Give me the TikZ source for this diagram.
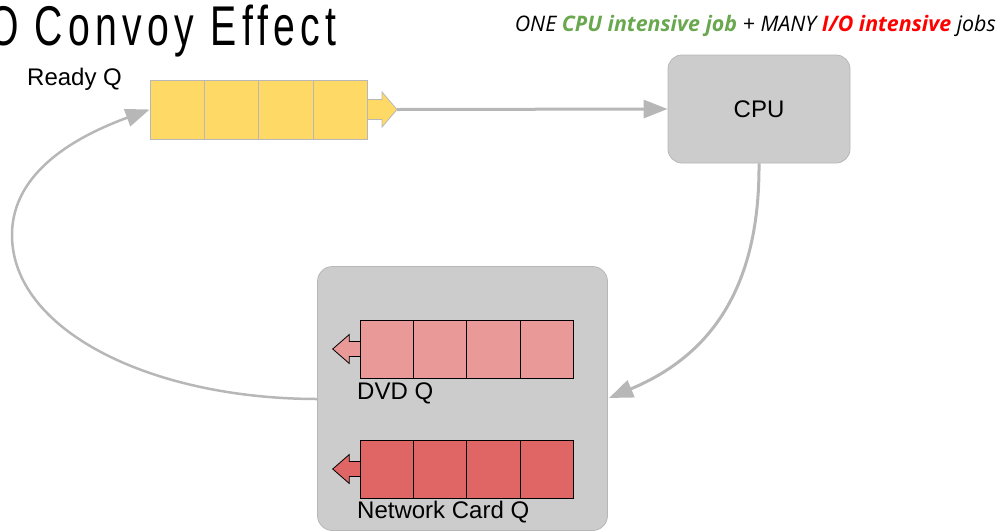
\documentclass[tikz,border=0pt]{standalone}
\usepackage{fontspec}
\setmainfont{Liberation Sans}
\newfontfamily\subfont{Open Sans}
\newfontfamily\titlefont[FakeStretch=0.7,LetterSpace=9.5]{Liberation Sans}
\usetikzlibrary{arrows.meta}

\definecolor{qyellow}{HTML}{FFD966}
\definecolor{qpink}{HTML}{EA9999}
\definecolor{qred}{HTML}{E06666}
\definecolor{boxgray}{HTML}{CCCCCC}
\definecolor{edgegray}{HTML}{B7B7B7}
\definecolor{jobgreen}{HTML}{6AA84F}
\definecolor{jobred}{HTML}{FF0000}

\tikzset{
  link/.style={draw=edgegray, line width=3pt,
    -{Triangle[length=24pt,width=18pt]}},
  unit/.style={draw=edgegray, fill=boxgray, rounded corners=14pt,
    line width=0.8pt, inner sep=0pt},
  rcell/.style={draw=edgegray, fill=qyellow, line width=0.8pt,
    minimum width=54.4pt, minimum height=59pt, inner sep=0pt},
  dcell/.style={draw=black, fill=qpink, line width=0.8pt,
    minimum width=53.3pt, minimum height=58.3pt, inner sep=0pt},
  ncell/.style={draw=black, fill=qred, line width=0.8pt,
    minimum width=53.3pt, minimum height=58.3pt, inner sep=0pt},
  lbl/.style={inner sep=0pt, anchor=base west, font=\fontsize{24}{28}\selectfont},
}

\begin{document}
\begin{tikzpicture}[x=1pt,y=-1pt]
\useasboundingbox (0,0) rectangle (1001,531);

% title and subtitle
\node[inner sep=0pt, anchor=base east, font=\titlefont\fontsize{56}{60}\selectfont]
  (title) at (337,45) {O Convoy Effect};
\node[inner sep=0pt, anchor=base east, font=\subfont\itshape\fontsize{21.4}{25}\selectfont]
  (sub) at (996,31)
  {ONE \textcolor{jobgreen}{\bfseries CPU intensive job} + MANY
   \textcolor{jobred}{\bfseries I/O intensive} jobs};

% CPU
\node[unit, minimum width=182pt, minimum height=108pt] (cpu) at (759,109)
  {\fontsize{24}{28}\selectfont CPU};

% I/O device box
\node[unit, rounded corners=15pt, minimum width=290pt, minimum height=264pt]
  (iobox) at (462.5,398.5) {};

% ready queue with its exit arrow
\path[draw=edgegray, fill=qyellow, line width=0.8pt]
  (367,99.5) -- (382,99.5) -- (382,92) -- (397,109.5) -- (382,127)
  -- (382,119.5) -- (367,119.5);
\foreach \i in {1,...,4}
  \node[rcell] (r\i) at ({150+27.2+54.4*(\i-1)},109.5) {};
\node[lbl] (readylbl) at (27,85) {Ready Q};
\coordinate (readytip) at (397,109.5);

% DVD queue
\path[draw=black, fill=qpink, line width=0.8pt]
  (361,341.5) -- (349.3,341.5) -- (349.3,334.5) -- (332.7,349) -- (349.3,363.5)
  -- (349.3,356.5) -- (361,356.5);
\foreach \i in {1,...,4}
  \node[dcell] (d\i) at ({360+26.65+53.3*(\i-1)},349.2) {};
\node[lbl] (dvdlbl) at (357,399) {DVD Q};

% network card queue
\path[draw=black, fill=qred, line width=0.8pt]
  (361,461.5) -- (349.3,461.5) -- (349.3,454.5) -- (332.7,469) -- (349.3,483.5)
  -- (349.3,476.5) -- (361,476.5);
\foreach \i in {1,...,4}
  \node[ncell] (n\i) at ({360+26.65+53.3*(\i-1)},469.2) {};
\node[lbl] (netlbl) at (357,518) {Network Card Q};

% connectors
\coordinate (ioin) at (609,398);
\coordinate (ioout) at (318,399);
\draw[link] (readytip) -- (cpu.west);
\draw[link] (cpu.south) .. controls (760,300) and (700,360) .. (ioin);
\draw[link, line width=2.5pt] (ioout) .. controls (150,399) and (12,330) .. (12,235)
  .. controls (12,170) and (80,135) .. (r1.west);
\end{tikzpicture}
\end{document}
